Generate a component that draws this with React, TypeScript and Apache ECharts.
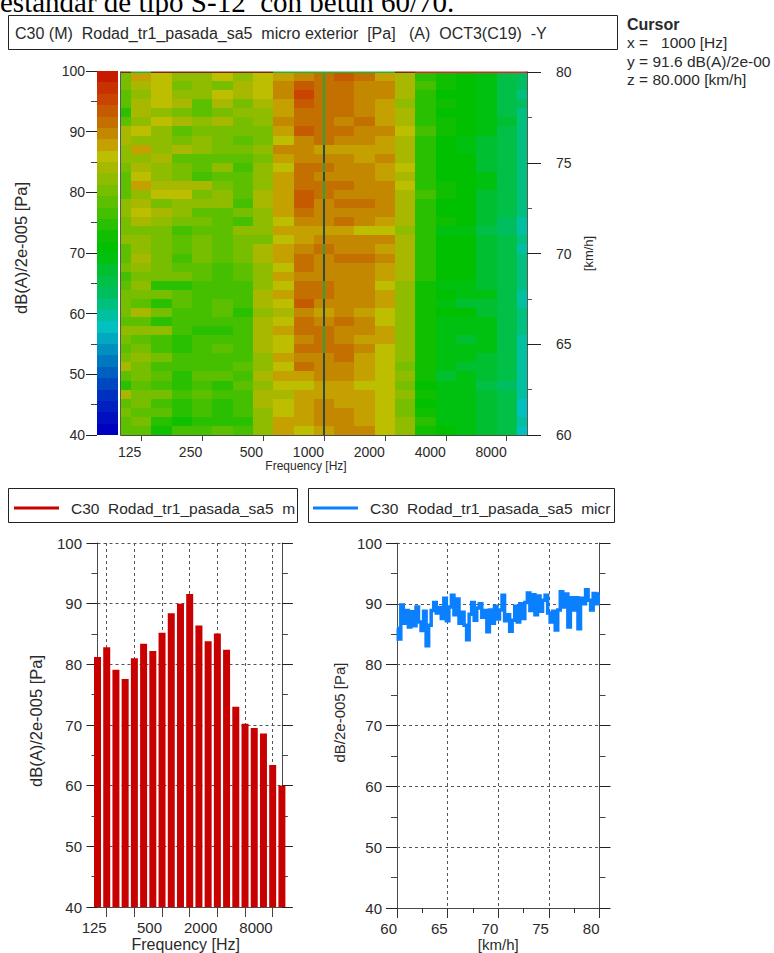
import React, { useEffect, useRef } from "react";
import * as echarts from "echarts";

const FONT = "Liberation Sans";
const frequencies = ["100","125","160","200","250","315","400","500","630","800","1000","1250","1600","2000","2500","3150","4000","5000","6300","8000","10000"];
const tickFreqs = ["125","250","500","1000","2000","4000","8000"];
const heatLabels = tickFreqs;
const barLabels = ["125","500","2000","8000"];

// Colour bands of the scale, 40 dB (index 0) up to 100 dB (index 31)
const palette = ["#0000C0","#0010C0","#0020C0","#0030C0","#0048C0","#0060C0","#0078C0","#0090C0","#00A8C0","#00C0C0","#00C0A0","#00C080","#00BE60","#00C048","#00BF30","#00C010","#00C000","#10C000","#28C000","#44C000","#5CC000","#78BE00","#90BC00","#A8B800","#BEBE00","#C4A000","#C48800","#C47000","#C65A00","#C84400","#C83200","#C81A00"];

// Band index read per cell, from 80 km/h (first row) down to 60 km/h (last row)
const heatBands = [
[21,25,24,22,22,24,22,24,25,26,27,28,27,25,23,18,17,16,15,13,12],
[21,23,24,21,22,21,23,24,26,28,27,27,26,26,23,19,17,16,15,13,12],
[20,22,24,22,22,24,23,24,26,29,27,27,26,26,23,18,16,16,15,13,11],
[20,23,24,23,20,23,21,23,25,28,27,27,26,25,22,18,17,16,15,13,12],
[18,23,22,21,20,21,22,22,25,27,27,27,26,25,23,18,16,16,15,13,11],
[20,22,24,23,22,23,21,22,26,27,27,26,27,25,23,18,17,16,15,14,11],
[23,24,22,20,21,21,21,21,25,28,27,27,26,26,24,19,17,16,15,13,11],
[23,22,22,21,22,21,20,21,24,26,27,26,26,25,23,18,16,15,14,13,11],
[22,25,22,23,22,21,21,22,26,26,25,25,25,25,23,18,16,15,14,13,11],
[22,22,23,20,20,20,20,21,25,26,26,26,25,26,23,18,16,16,14,13,11],
[21,23,22,21,20,22,19,22,24,27,27,26,26,25,24,18,16,16,14,13,11],
[20,24,22,21,19,20,20,22,25,27,26,26,26,25,23,18,16,16,15,13,11],
[20,25,23,23,23,21,20,22,25,27,27,27,26,26,24,18,17,16,15,13,11],
[20,22,24,24,21,22,20,23,25,28,27,26,26,26,23,19,17,16,14,13,11],
[22,23,21,22,22,22,19,23,25,28,26,27,27,26,23,18,16,16,14,13,11],
[22,24,23,22,20,20,21,22,25,27,26,26,26,26,23,18,16,16,14,13,11],
[21,23,22,21,21,20,19,22,24,26,26,27,26,25,23,18,17,16,14,12,10],
[21,21,21,19,20,20,22,22,25,25,25,25,24,24,22,18,15,15,13,12,10],
[22,22,21,20,21,20,21,21,24,25,26,26,26,26,23,18,16,16,14,13,11],
[20,22,21,20,21,20,21,23,25,26,27,26,26,25,23,18,16,16,14,13,10],
[20,23,21,19,21,20,21,23,25,27,26,27,27,26,23,18,16,16,14,13,11],
[21,22,21,20,20,19,20,22,24,27,26,26,26,25,23,18,16,16,14,13,11],
[19,21,21,21,20,19,20,22,25,26,26,26,26,25,23,18,16,16,14,13,11],
[20,22,18,18,19,19,19,22,24,27,27,26,26,24,22,17,15,15,14,13,11],
[21,21,21,20,19,19,19,23,25,27,27,26,26,25,22,17,16,15,15,13,10],
[21,20,18,20,19,20,19,23,24,28,26,26,26,25,22,17,15,14,14,13,10],
[21,23,21,19,19,20,18,22,23,26,25,26,25,24,22,17,16,16,14,13,11],
[20,20,18,19,19,19,19,23,24,27,26,27,26,24,22,17,15,15,15,13,11],
[22,22,22,19,18,18,19,23,25,27,27,26,26,25,22,17,15,15,15,13,11],
[21,20,19,18,19,19,19,23,24,26,27,26,25,25,22,17,15,14,15,13,10],
[20,21,19,18,19,20,19,23,24,27,27,27,26,24,22,17,15,15,15,13,10],
[21,22,21,19,19,19,19,22,25,26,26,27,25,24,22,17,15,15,14,13,10],
[23,21,19,19,19,19,20,22,24,27,26,26,25,24,21,17,15,14,14,13,10],
[20,21,20,18,20,20,19,23,25,25,26,26,25,24,22,17,14,15,14,13,10],
[18,20,19,18,19,18,20,22,24,24,25,25,24,24,21,16,15,15,13,12,10],
[23,21,21,19,20,19,19,23,23,25,25,25,25,24,22,17,15,15,14,13,10],
[20,21,19,18,19,18,19,23,24,25,26,25,25,24,21,16,15,15,14,13,9],
[21,20,20,18,19,18,19,22,24,25,26,26,25,24,21,17,15,15,14,13,9],
[20,21,18,17,18,18,18,22,25,25,26,26,25,24,22,18,15,15,14,13,10],
[20,20,17,19,19,20,19,22,25,24,25,26,26,24,22,17,16,15,14,13,9],
];

const barValues = [81.2,82.8,79.1,77.6,81.0,83.4,82.2,85.2,88.4,90.0,91.6,86.4,83.8,85.1,82.4,73.0,70.2,69.5,68.6,63.4,60.0];

const speedValues = [86.0,84.2,89.8,86.8,88.9,86.2,88.7,86.4,89.5,87.0,85.6,88.8,83.1,86.5,88.9,90.2,88.5,89.4,87.6,90.9,87.2,89.5,91.4,88.2,90.8,86.8,88.6,86.5,84.1,88.3,90.2,87.3,89.3,90.0,87.8,88.9,85.4,89.0,86.8,89.6,87.5,89.0,91.4,87.2,88.2,85.5,87.3,89.6,87.0,90.0,87.6,90.2,91.8,88.9,91.5,88.2,91.3,88.8,90.6,91.4,88.5,87.0,88.8,85.7,89.0,92.0,89.5,91.6,86.2,91.0,89.0,91.0,85.9,90.9,90.0,92.3,90.6,89.0,91.7,90.0,91.6];

const dbStep = 60 / 32;
const TEXT = "#2a2a2a";
const AXIS = "#4a4a4a";

const bandOf = (db: number) => Math.max(0, Math.min(31, Math.floor((db - 40) / dbStep)));
const heatData: number[][] = [];
heatBands.forEach((row, r) => {
  const kmh = 80 - (r + 1) * 0.5;
  row.forEach((b, c) => heatData.push([c, kmh, 40 + (b + 0.5) * dbStep]));
});
const barScale = palette.map((_, i) => [0, 40 + i * dbStep, 40 + (i + 1) * dbStep, i]);
const lineData = speedValues.map((v, i) => [60 + i * 0.25, v]);

function renderHeat(params: any, api: any) {
  const col = api.value(0);
  const kmh = api.value(1);
  const db = api.value(2);
  const band = bandOf(db);
  const w = api.size([1, 0])[0];
  const p0 = api.coord([col, kmh + 0.5]);
  const p1 = api.coord([col, kmh]);
  const sys = params.coordSys;
  const shape = echarts.graphic.clipRectByRect(
    { x: p0[0] - w / 2, y: p0[1], width: w, height: p1[1] - p0[1] },
    { x: sys.x, y: sys.y, width: sys.width, height: sys.height }
  );
  if (!shape) return null;
  const x0 = Math.round(shape.x);
  const x1 = Math.round(shape.x + shape.width);
  const y0 = Math.round(shape.y);
  const y1 = Math.round(shape.y + shape.height);
  const children: any[] = [
    { type: "rect", shape: { x: x0, y: y0, width: x1 - x0, height: y1 - y0 }, style: { fill: palette[band], stroke: null } },
  ];
  if (col === 10) {
    children.push({ type: "rect", shape: { x: Math.round(p0[0]) - 1, y: y0, width: 2, height: y1 - y0 }, style: { fill: band >= 27 ? "#22A83C" : "#2B4A3E" } });
  }
  if (kmh === 79.5) {
    const top = band >= 25 ? "#22B040" : band >= 19 ? "#7A2A10" : "#E02030";
    children.push({ type: "rect", shape: { x: x0, y: y0 - 0.5, width: x1 - x0, height: 1.5 }, style: { fill: top } });
  }
  return { type: "group", children };
}

function renderScale(_params: any, api: any) {
  const a = api.coord([0, api.value(2)]);
  const b = api.coord([1, api.value(1)]);
  const y0 = Math.round(a[1]);
  const y1 = Math.round(b[1]);
  return { type: "rect", shape: { x: a[0], y: y0, width: b[0] - a[0], height: y1 - y0 }, style: { fill: palette[api.value(3)] } };
}

const tickOn = (names: string[]) => (index: number) => names.includes(frequencies[index]);

function yAxisBase(grid: number, min: number, max: number, interval: number, position: string, extra: any = {}) {
  return {
    type: "value", gridIndex: grid, min, max, interval, position,
    axisLine: { show: true, onZero: false, lineStyle: { color: AXIS, width: 1 } },
    axisTick: { show: true, length: 11, lineStyle: { color: "#222", width: 1 } },
    minorTick: { show: true, splitNumber: 2, length: 6, lineStyle: { color: "#444", width: 1 } },
    axisLabel: { show: true, color: TEXT, fontFamily: FONT, fontSize: 14, margin: 12 },
    splitLine: { show: false },
    ...extra,
  };
}
const nameStyle = (size: number, padding?: number[]) => ({ color: TEXT, fontFamily: FONT, fontSize: size, padding });
const gridLine = { color: "#555", width: 1, type: [3, 3] };

const option: any = {
  animation: false,
  backgroundColor: "#ffffff",
  textStyle: { fontFamily: FONT },
  grid: [
    { left: 97, top: 71, width: 21, height: 364 },
    { left: 121, top: 72, width: 406, height: 363 },
    { left: 97.5, top: 543, width: 184.4, height: 367 },
    { left: 397, top: 543, width: 202.5, height: 367 },
  ],
  xAxis: [
    { type: "value", gridIndex: 0, min: 0, max: 1, show: false },
    {
      type: "category", gridIndex: 1, data: frequencies, boundaryGap: false, position: "bottom",
      name: "Frequency [Hz]", nameLocation: "middle", nameGap: 25, nameTextStyle: nameStyle(12, [0, 36, 0, 0]),
      axisLine: { show: true, lineStyle: { color: AXIS } },
      axisTick: { show: true, length: 6, interval: tickOn(tickFreqs), lineStyle: { color: "#444" } },
      axisLabel: { color: TEXT, fontFamily: FONT, fontSize: 14, margin: 10, align: "right", interval: tickOn(heatLabels) },
      splitLine: { show: false },
    },
    {
      type: "category", gridIndex: 2, data: frequencies, boundaryGap: false, position: "bottom",
      name: "Frequency [Hz]", nameLocation: "middle", nameGap: 29, nameTextStyle: nameStyle(16, [0, 8, 0, 0]),
      axisLine: { show: true, lineStyle: { color: AXIS } },
      axisTick: { show: true, length: 10, interval: tickOn(tickFreqs), lineStyle: { color: "#444" } },
      axisLabel: { color: TEXT, fontFamily: FONT, fontSize: 15, margin: 13, align: "right", interval: tickOn(barLabels) },
      splitLine: { show: true, interval: tickOn(tickFreqs), lineStyle: gridLine },
    },
    {
      type: "value", gridIndex: 3, min: 60, max: 80, interval: 5, position: "bottom",
      name: "[km/h]", nameLocation: "middle", nameGap: 29, nameTextStyle: nameStyle(15),
      axisLine: { show: true, onZero: false, lineStyle: { color: AXIS } },
      axisTick: { show: true, length: 10, lineStyle: { color: "#333" } },
      minorTick: { show: true, splitNumber: 2, length: 5, lineStyle: { color: "#333" } },
      axisLabel: { color: TEXT, fontFamily: FONT, fontSize: 15, margin: 13, align: "right" },
      splitLine: { show: true, lineStyle: gridLine },
    },
  ],
  yAxis: [
    yAxisBase(0, 40, 100, 10, "left", {
      name: "dB(A)/2e-005 [Pa]", nameLocation: "middle", nameRotate: 90, nameGap: 68, nameTextStyle: nameStyle(16.5, [0, 0, 0, 10]),
      axisLine: { show: false },
    }),
    yAxisBase(1, 60, 80, 5, "right", {
      name: "[km/h]", nameLocation: "middle", nameRotate: 90, nameGap: 44, nameTextStyle: nameStyle(13),
      axisTick: { show: true, length: 14, lineStyle: { color: "#222" } },
      minorTick: { show: true, splitNumber: 2, length: 5, lineStyle: { color: "#555" } },
      axisLabel: { show: true, color: TEXT, fontFamily: FONT, fontSize: 14, margin: 29 },
      axisLine: { show: true, lineStyle: { color: "#222", width: 1.5 } },
    }),
    yAxisBase(1, 60, 80, 5, "left", {
      axisTick: { show: false }, minorTick: { show: false }, axisLabel: { show: false },
      axisLine: { show: true, lineStyle: { color: "#222", width: 1.5 } },
    }),
    yAxisBase(2, 40, 100, 10, "left", {
      name: "dB(A)/2e-005 [Pa]", nameLocation: "middle", nameRotate: 90, nameGap: 53, nameTextStyle: nameStyle(16.5, [0, 0, 0, 8]),
      axisLabel: { color: TEXT, fontFamily: FONT, fontSize: 15, margin: 15.5 },
      splitLine: { show: true, lineStyle: gridLine },
    }),
    yAxisBase(2, 40, 100, 10, "right", { axisLabel: { show: false } }),
    yAxisBase(3, 40, 100, 10, "left", {
      name: "dB/2e-005 [Pa]", nameLocation: "middle", nameRotate: 90, nameGap: 50, nameTextStyle: nameStyle(15, [0, 0, 0, 26]),
      axisLabel: { color: TEXT, fontFamily: FONT, fontSize: 15, margin: 15 },
      splitLine: { show: true, lineStyle: gridLine },
    }),
    yAxisBase(3, 40, 100, 10, "right", { axisLabel: { show: false } }),
  ],
  series: [
    { type: "custom", name: "scale", xAxisIndex: 0, yAxisIndex: 0, data: barScale, renderItem: renderScale, silent: true },
    { type: "custom", name: "map", xAxisIndex: 1, yAxisIndex: 1, data: heatData, renderItem: renderHeat, encode: { x: 0, y: 1 }, silent: true },
    { type: "bar", name: "spectrum", xAxisIndex: 2, yAxisIndex: 3, data: barValues, barWidth: 7, itemStyle: { color: "#C80000" }, z: 5 },
    {
      type: "line", name: "speed", xAxisIndex: 3, yAxisIndex: 5, data: lineData, step: "middle", showSymbol: false, symbol: "none",
      lineStyle: { color: "#0A80FF", width: 3.5, join: "miter" }, z: 5,
    },
  ],
  graphic: [
    { type: "text", x: 0, y: 16, style: { text: "estándar de tipo S-12  con betún 60/70.", fontFamily: "Liberation Serif", fontSize: 29, fill: "#000", verticalAlign: "bottom" } },
    { type: "rect", shape: { x: 8.5, y: 15.5, width: 609, height: 34 }, style: { fill: "#fff", stroke: "#222", lineWidth: 1 } },
    { type: "text", x: 15, y: 33, style: { text: "C30 (M)  Rodad_tr1_pasada_sa5  micro exterior  [Pa]   (A)  OCT3(C19)  -Y", fontFamily: FONT, fontSize: 16, fill: TEXT, verticalAlign: "middle" } },
    { type: "text", x: 627, y: 24, style: { text: "Cursor", fontFamily: FONT, fontSize: 16, fontWeight: "bold", fill: TEXT, verticalAlign: "middle" } },
    { type: "text", x: 627, y: 42, style: { text: "x =   1000 [Hz]", fontFamily: FONT, fontSize: 15.5, fill: TEXT, verticalAlign: "middle" } },
    { type: "text", x: 627, y: 61, style: { text: "y = 91.6 dB(A)/2e-00", fontFamily: FONT, fontSize: 15.5, fill: TEXT, verticalAlign: "middle" } },
    { type: "text", x: 627, y: 79, style: { text: "z = 80.000 [km/h]", fontFamily: FONT, fontSize: 15.5, fill: TEXT, verticalAlign: "middle" } },
    { type: "rect", shape: { x: 8.5, y: 488.5, width: 289, height: 34 }, style: { fill: "#fff", stroke: "#222", lineWidth: 1 } },
    { type: "line", shape: { x1: 14, y1: 508, x2: 59, y2: 508 }, style: { stroke: "#C80000", lineWidth: 3 } },
    { type: "text", x: 71, y: 508, style: { text: "C30  Rodad_tr1_pasada_sa5  m", fontFamily: FONT, fontSize: 15.5, fill: TEXT, verticalAlign: "middle" } },
    { type: "rect", shape: { x: 308.5, y: 488.5, width: 306, height: 34 }, style: { fill: "#fff", stroke: "#222", lineWidth: 1 } },
    { type: "line", shape: { x1: 313, y1: 508, x2: 358, y2: 508 }, style: { stroke: "#0A80FF", lineWidth: 3 } },
    { type: "text", x: 370, y: 508, style: { text: "C30  Rodad_tr1_pasada_sa5  micr", fontFamily: FONT, fontSize: 15.5, fill: TEXT, verticalAlign: "middle" } },
  ],
};

export default function App() {
  const ref = useRef<HTMLDivElement>(null);
  useEffect(() => {
    const chart = echarts.init(ref.current!, undefined, { renderer: "svg" });
    chart.setOption(option);
    return () => chart.dispose();
  }, []);
  return <div ref={ref} style={{ position: "absolute", left: 0, top: 0, width: 774, height: 953 }} />;
}
